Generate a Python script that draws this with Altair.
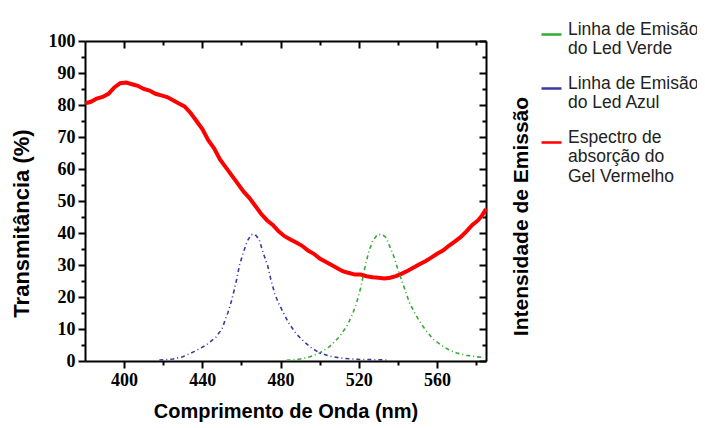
import altair as alt
import pandas as pd

# ---- data ----
red_nm = [380, 383, 386, 389, 392, 395, 398, 401, 404, 407, 410, 413, 416, 419, 422, 425, 428, 431,
          434, 437, 440, 443, 446, 449, 452, 455, 458, 461, 464, 467, 470, 473, 476, 479, 482, 485,
          488, 491, 494, 497, 500, 503, 506, 509, 512, 515, 518, 521, 524, 527, 530, 533, 536, 539,
          542, 545, 548, 551, 554, 557, 560, 563, 566, 569, 572, 575, 578, 581, 583, 585]
red_val = [80.5, 81, 82, 82.5, 83.5, 85.5, 86.8, 87, 86.5, 86, 85, 84.5, 83.5, 83, 82.5, 81.5, 80.5, 79.5,
           77.5, 75, 72.5, 69, 66.5, 63, 60.5, 58, 55.5, 53, 51, 48.5, 46, 44, 42.5, 40.5, 39, 38,
           37, 36, 34.5, 33.5, 32, 31, 30, 29, 28, 27.5, 27, 27, 26.5, 26.2, 26, 25.8, 26, 26.5,
           27.3, 28.2, 29.2, 30.2, 31.2, 32.3, 33.5, 34.5, 36, 37.3, 38.7, 40.5, 42.5, 44, 45.5, 47.5]

blue_nm = [418, 425, 430, 436, 442, 447, 450, 453, 455, 457, 459, 461, 463, 465, 467, 469, 471, 473.5,
           475, 477, 479, 481.5, 484, 488, 492, 496, 500, 505, 512, 520, 528, 535]
blue_val = [0.3, 0.6, 1.3, 3, 5, 7.5, 10, 15, 19, 24, 30, 34, 37.5, 39.5, 39.5, 38, 34, 29.5,
            25.5, 21, 18, 15, 12, 8.5, 6, 4, 2.5, 1.5, 0.8, 0.5, 0.4, 0.3]

green_nm = [483, 490, 495, 500, 505, 510, 514, 517, 519, 521, 523, 525, 527, 529.5, 532, 534, 536, 538,
            540, 542, 544, 546, 549, 552, 555, 558, 562, 566, 570, 575, 580, 584]
green_val = [0.2, 0.6, 1.3, 2.5, 4.5, 7.5, 11, 15, 18.5, 23, 29, 34, 37.5, 39.5, 39.5, 38.5, 35.5, 32.5,
             28.5, 25, 21.5, 18, 14.5, 11.5, 9, 6.8, 5, 3.5, 2.5, 1.8, 1.3, 1.1]

series_names = ["Linha de Emisão|do Led Verde", "Linha de Emisão|do Led Azul",
                "Espectro de|absorção do|Gel Vermelho"]
series_colors = ["#33aa33", "#3a3aa0", "#ff0000"]

x_ticks = [400, 420, 440, 460, 480, 500, 520, 540, 560, 580]
y_ticks = list(range(0, 101, 5))

red_df = pd.DataFrame({"nm": red_nm, "val": red_val, "series": series_names[2]})
emis_df = pd.concat([
    pd.DataFrame({"nm": green_nm, "val": green_val, "series": series_names[0]}),
    pd.DataFrame({"nm": blue_nm, "val": blue_val, "series": series_names[1]}),
])

xscale = alt.Scale(domain=[380, 585], nice=False, zero=False)
yscale = alt.Scale(domain=[0, 100], nice=False, zero=True)
color = alt.Color("series:N",
                  scale=alt.Scale(domain=series_names, range=series_colors),
                  legend=alt.Legend(title=None, orient="none", legendX=455, legendY=-18,
                                    symbolType="stroke", symbolStrokeWidth=2.5, symbolSize=400,
                                    symbolDash=[1, 0], labelExpr="split(datum.label, '|')",
                                    labelFont="Liberation Sans", labelFontSize=17.5, labelLimit=400,
                                    labelBaseline="alphabetic",
                                    labelColor="#222222", rowPadding=16, labelOffset=5))

AX = dict(domainColor="black", domainWidth=2, tickColor="black", tickWidth=2,
          labelFont="Liberation Serif", labelFontWeight="bold", labelFontSize=18, labelColor="black",
          titleFont="Liberation Sans", titleFontWeight="bold", titleColor="black")

red = alt.Chart(red_df).mark_line(strokeWidth=4).encode(
    x=alt.X("nm:Q", scale=xscale,
            axis=alt.Axis(values=x_ticks, title="Comprimento de Onda (nm)", titleFontSize=20,
                          labelExpr="datum.value % 40 == 0 ? datum.label : ''",
                          tickSize=alt.ExprRef("datum.value % 40 == 0 ? 7 : 4"),
                          labelPadding=3, titlePadding=12, grid=False, **AX)),
    y=alt.Y("val:Q", scale=yscale,
            axis=alt.Axis(values=y_ticks, title="Transmitância (%)", titleFontSize=22,
                          titleY=182,
                          labelExpr="datum.value % 10 == 0 ? datum.label : ''",
                          tickSize=alt.ExprRef("datum.value % 10 == 0 ? 7 : 4"),
                          labelPadding=3, titlePadding=15, grid=False, **AX)),
    color=color,
)

emis = alt.Chart(emis_df).mark_line(strokeWidth=1.6, strokeDash=[4, 3, 1, 3]).encode(
    x=alt.X("nm:Q", scale=xscale,
            axis=alt.Axis(orient="top", values=x_ticks, labels=False, title=None,
                          tickSize=alt.ExprRef("datum.value % 40 == 0 ? -7 : -4"),
                          grid=False, **AX)),
    y=alt.Y("val:Q", scale=yscale,
            axis=alt.Axis(orient="right", values=y_ticks, labels=False, title="Intensidade de Emissão",
                          titleFontSize=21, titleAngle=270, titlePadding=44, titleY=175,
                          tickSize=alt.ExprRef("datum.value % 10 == 0 ? -7 : -4"),
                          grid=False, **AX)),
    color=color,
    detail="series:N",
)

chart = alt.layer(red, emis).resolve_scale(x="independent", y="independent").properties(
    width=401, height=320,
    autosize=alt.AutoSizeParams(type="none"),
    padding={"left": 77, "top": 33, "right": 211, "bottom": 63},
).configure_view(stroke="black", strokeWidth=2).configure(background="white")

chart.save("out.html", embed_options={"renderer": "svg", "actions": False})
